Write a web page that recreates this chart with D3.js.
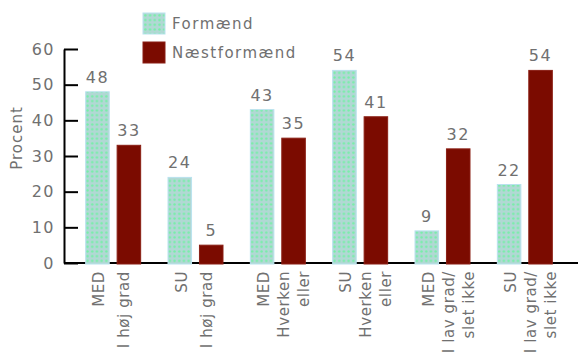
<!DOCTYPE html>
<html>
<head>
<meta charset="utf-8">
<script src="https://cdn.jsdelivr.net/npm/d3@7"></script>
<style>
  body { margin: 0; background: #fff; }
  text { font-family: "DejaVu Sans", sans-serif; fill: #707070; }
</style>
</head>
<body>
<div class="chart"></div>
<script>
// data
var categories = [
    ["MED", "I høj grad"],
    ["SU", "I høj grad"],
    ["MED", "Hverken", "eller"],
    ["SU", "Hverken", "eller"],
    ["MED", "I lav grad/", "slet ikke"],
    ["SU", "I lav grad/", "slet ikke"]
];
var seriesNames = ["Formænd", "Næstformænd"];
var formaend = [48, 24, 43, 54, 9, 22];
var naestformaend = [33, 5, 35, 41, 32, 54];
var yTicks = [0, 10, 20, 30, 40, 50, 60];

var width = 578, height = 358;

var svg = d3.select(".chart")
    .append("svg")
    .attr("width", width)
    .attr("height", height);

// dotted fill for the Formænd bars
var pat = svg.append("defs").append("pattern")
    .attr("id", "dots")
    .attr("patternUnits", "userSpaceOnUse")
    .attr("width", 4.7)
    .attr("height", 4.7);
pat.append("rect").attr("width", 4.7).attr("height", 4.7).attr("fill", "#b1d8d4");
pat.append("circle").attr("cx", 2.35).attr("cy", 2.35).attr("r", 1.2).attr("fill", "#74f0a6");

var y = d3.scaleLinear().domain([0, 60]).range([263, 49]);

var x0 = d3.scaleBand()
    .domain(d3.range(categories.length))
    .range([72, 566])
    .paddingInner(0.32)
    .paddingOuter(0.16);

var x1 = d3.scaleBand()
    .domain(seriesNames)
    .range([0, x0.bandwidth()])
    .paddingInner(0.22);

var colors = { "Formænd": "url(#dots)", "Næstformænd": "#7b0b00" };
var strokes = { "Formænd": "#b9e2ee", "Næstformænd": "#8a1f14" };

// x axis line
svg.append("line")
    .attr("x1", 64).attr("x2", width)
    .attr("y1", y(0)).attr("y2", y(0))
    .attr("stroke", "#000")
    .attr("stroke-width", 2);

// y axis
var yAxis = svg.append("g")
    .attr("transform", "translate(64,0)")
    .call(d3.axisLeft(y).tickValues(yTicks).tickSize(-14).tickSizeOuter(0).tickPadding(9));
yAxis.select(".domain").attr("stroke", "#000").attr("stroke-width", 2);
yAxis.selectAll(".tick line").attr("stroke", "#000").attr("stroke-width", 2);
yAxis.selectAll(".tick text")
    .style("font-family", "DejaVu Sans, sans-serif")
    .style("font-size", "16px")
    .style("letter-spacing", "1.5px")
    .attr("fill", "#707070");

svg.append("text")
    .attr("transform", "translate(22,138) rotate(-90)")
    .attr("text-anchor", "middle")
    .style("font-size", "15px")
    .style("letter-spacing", "1px")
    .text("Procent");

// bars
var rows = categories.map(function (c, i) {
    return [
        { cat: i, name: "Formænd", value: formaend[i] },
        { cat: i, name: "Næstformænd", value: naestformaend[i] }
    ];
});

var groups = svg.append("g")
    .selectAll("g")
    .data(rows)
    .enter()
    .append("g")
    .attr("transform", function (d, i) { return "translate(" + x0(i) + ",0)"; });

groups.selectAll("rect")
    .data(function (d) { return d; })
    .enter()
    .append("rect")
    .attr("x", function (d) { return x1(d.name) + 0.5; })
    .attr("y", function (d) { return y(d.value); })
    .attr("width", x1.bandwidth() - 1)
    .attr("height", function (d) { return y(0) + 1 - y(d.value); })
    .attr("fill", function (d) { return colors[d.name]; })
    .attr("stroke", function (d) { return strokes[d.name]; })
    .attr("stroke-width", 1);

groups.selectAll("text.val")
    .data(function (d) { return d; })
    .enter()
    .append("text")
    .attr("class", "val")
    .attr("x", function (d) { return x1(d.name) + x1.bandwidth() / 2; })
    .attr("y", function (d) { return y(d.value) - 9; })
    .attr("text-anchor", "middle")
    .style("font-size", "16px")
    .style("letter-spacing", "1.5px")
    .text(function (d) { return d.value; });

// category labels, rotated
groups.each(function (d, i) {
    var lines = categories[i];
    var step = lines.length == 2 ? 25 : 20;
    var cx = x0.bandwidth() / 2;
    d3.select(this).selectAll("text.cat")
        .data(lines)
        .enter()
        .append("text")
        .attr("class", "cat")
        .attr("text-anchor", "end")
        .attr("transform", function (t, j) {
            return "translate(" + (cx - 9 + j * step) + ",271) rotate(-90)";
        })
        .style("font-size", "15px")
        .style("letter-spacing", "0.6px")
        .text(function (t) { return t; });
});

// legend
var legend = svg.append("g")
    .selectAll("g")
    .data(seriesNames)
    .enter()
    .append("g")
    .attr("transform", function (d, i) { return "translate(143," + (13 + i * 29) + ")"; });

legend.append("rect")
    .attr("width", 22)
    .attr("height", 21)
    .attr("fill", function (d) { return colors[d]; })
    .attr("stroke", function (d) { return strokes[d]; });

legend.append("text")
    .attr("x", 29)
    .attr("y", 16)
    .style("font-size", "15px")
    .style("letter-spacing", "1.5px")
    .text(function (d) { return d; });
</script>
</body>
</html>
